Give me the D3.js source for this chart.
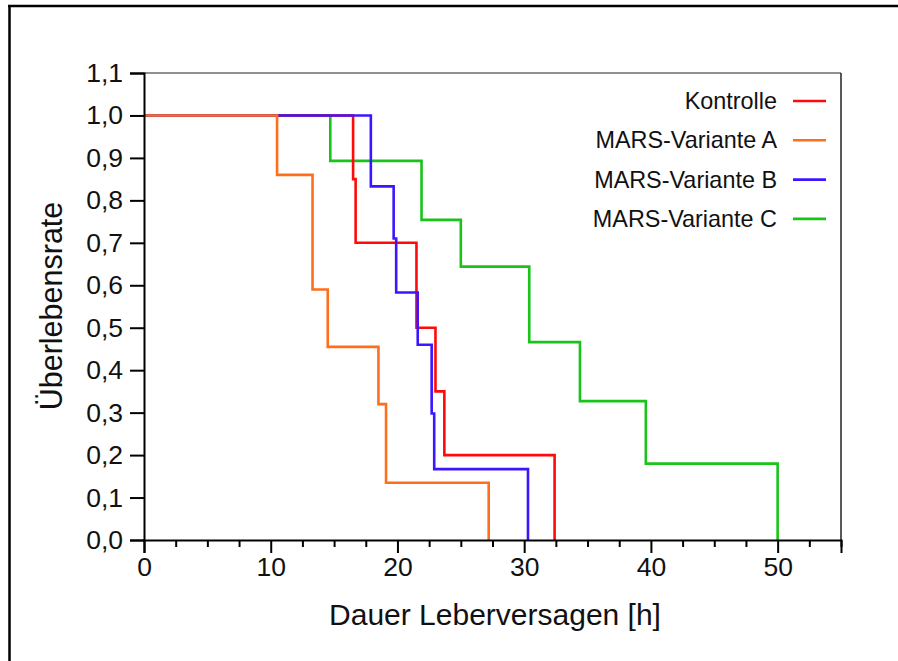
<!DOCTYPE html>
<html><head><meta charset="utf-8">
<script src="https://cdn.jsdelivr.net/npm/d3@7"></script>
<style>body{margin:0;background:#fff}svg{display:block}text{font-family:"Liberation Sans",Arial,sans-serif;fill:#111}</style>
</head><body>
<script>
const seriesNames = ["Kontrolle","MARS-Variante A","MARS-Variante B","MARS-Variante C"];
const seriesColors = ["#ff0a0a","#ff6e1a","#3a17ff","#19c319"];
const kontrolleT = [0, 16.5, 16.7, 21.5, 23.0, 23.7, 32.4];
const kontrolleS = [1.0, 0.85, 0.70, 0.50, 0.35, 0.20, 0];
const varAT = [0, 10.5, 13.3, 14.5, 18.5, 19.1, 27.2];
const varAS = [1.0, 0.86, 0.59, 0.455, 0.32, 0.135, 0];
const varBT = [0, 17.9, 19.7, 19.9, 21.6, 22.7, 22.9, 30.3];
const varBS = [1.0, 0.833, 0.71, 0.583, 0.46, 0.298, 0.167, 0];
const varCT = [0, 14.7, 21.9, 25.0, 30.4, 34.4, 39.6, 50];
const varCS = [1.0, 0.893, 0.754, 0.644, 0.466, 0.327, 0.18, 0];
const xTicks = [0,10,20,30,40,50];
const xMinorTicks = [2.5,5,7.5,12.5,15,17.5,22.5,25,27.5,32.5,35,37.5,42.5,45,47.5,52.5,55];
const yTicks = [0,0.1,0.2,0.3,0.4,0.5,0.6,0.7,0.8,0.9,1.0,1.1];
const xTitle = "Dauer Leberversagen [h]";
const yTitle = "Überlebensrate";

const W=898,H=661;
const svg=d3.select("body").append("svg").attr("width",W).attr("height",H);
const x=d3.scaleLinear().domain([0,55]).range([144,841]);
const y=d3.scaleLinear().domain([0,1.1]).range([540,73]);

// outer frame (top and left)
svg.append("line").attr("x1",8).attr("x2",W+2).attr("y1",6).attr("y2",6).attr("stroke","#000").attr("stroke-width",2.5);
svg.append("line").attr("x1",9.5).attr("x2",9.5).attr("y1",5).attr("y2",H+2).attr("stroke","#000").attr("stroke-width",2.5);

// plot box top & right
svg.append("line").attr("x1",x(0)).attr("x2",x(55)).attr("y1",y(1.1)).attr("y2",y(1.1)).attr("stroke","#222").attr("stroke-width",1.2);
svg.append("line").attr("x1",x(55)).attr("x2",x(55)).attr("y1",y(1.1)).attr("y2",y(0)).attr("stroke","#222").attr("stroke-width",1.5);

// series
const line=d3.line().x(d=>x(d[0])).y(d=>y(d[1])).curve(d3.curveStepAfter);
const data=[
  {i:3,t:varCT,s:varCS},
  {i:0,t:kontrolleT,s:kontrolleS},
  {i:2,t:varBT,s:varBS},
  {i:1,t:varAT,s:varAS}
];
data.forEach(d=>{
  const pts=d.t.map((t,k)=>[t,d.s[k]]);
  svg.append("path").attr("d",line(pts)).attr("fill","none").attr("stroke",seriesColors[d.i]).attr("stroke-width",2.6).attr("stroke-linejoin","miter");
});

// x axis
const gx=svg.append("g").attr("transform",`translate(0,${y(0)})`);
gx.call(d3.axisBottom(x).tickValues(xTicks).tickSize(13).tickPadding(4).tickFormat(d3.format("d")));
gx.append("g").call(d3.axisBottom(x).tickValues(xMinorTicks).tickSize(7).tickFormat(""));
gx.selectAll(".domain").attr("stroke","#000").attr("stroke-width",2);
gx.selectAll(".tick line").attr("stroke","#000").attr("stroke-width",2);
gx.selectAll("text").style("font-size","26.5px").attr("fill","#111");
gx.selectAll(".domain").filter(function(){return this.parentNode!==gx.node();}).remove();

// y axis
const gy=svg.append("g").attr("transform",`translate(${x(0)},0)`);
gy.call(d3.axisLeft(y).tickValues(yTicks).tickSize(14).tickPadding(7).tickFormat(d=>d3.format(".1f")(d).replace(".",",")));
gy.selectAll(".domain").attr("stroke","#000").attr("stroke-width",2);
gy.selectAll(".tick line").attr("stroke","#000").attr("stroke-width",2);
gy.selectAll("text").style("font-size","26.5px").attr("fill","#111");

// titles
svg.append("text").attr("x",495).attr("y",625).attr("text-anchor","middle").style("font-size","30px").text(xTitle);
svg.append("text").attr("transform","translate(62,306) rotate(-90)").attr("text-anchor","middle").style("font-size","30.5px").text(yTitle);

// legend
const lg=svg.append("g");
seriesNames.forEach((n,i)=>{
  const yy=101+i*39.3;
  lg.append("text").attr("x",777).attr("y",yy).attr("dy","0.35em").attr("text-anchor","end").style("font-size","23.4px").text(n);
  lg.append("line").attr("x1",793).attr("x2",826).attr("y1",yy).attr("y2",yy).attr("stroke",seriesColors[i]).attr("stroke-width",2.6);
});
</script>
</body></html>
